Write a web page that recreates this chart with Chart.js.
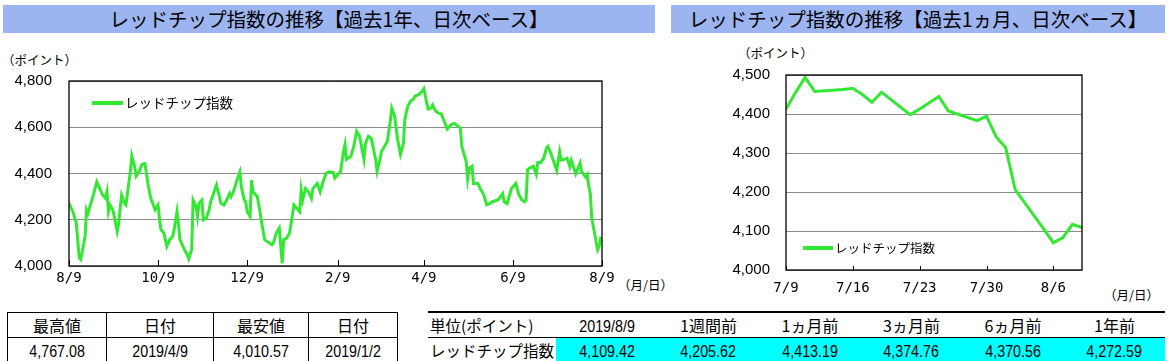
<!DOCTYPE html>
<html lang="ja">
<head>
<meta charset="utf-8">
<script src="https://cdn.jsdelivr.net/npm/chart.js@4.4.1/dist/chart.umd.min.js"></script>
<style>
  html, body { margin: 0; padding: 0; background: #fff; }
  body { width: 1170px; height: 361px; position: relative; overflow: hidden;
         font-family: "Noto Sans CJK JP", sans-serif; color: #000; }
  .title { position: absolute; background: #9cb4f0; font-size: 19.5px; height: 28px;
           line-height: 28px; text-align: center; }
  .note { position: absolute; font-size: 12.5px; white-space: nowrap; }
  canvas { position: absolute; }
  table { position: absolute; border-collapse: collapse; table-layout: fixed; }
  td { padding: 0; text-align: center; white-space: nowrap; overflow: hidden; }
  .num span { display: inline-block; font-family: "Liberation Sans", sans-serif; font-size: 17px;
              transform: scaleX(0.84); }
  #hilo { border: 1.5px solid #000; }
  #hilo td { border: 1px solid #000; font-size: 16px; }
  #hilo tr { height: 20px; }
  #recent { border-top: 2px solid #000; border-bottom: 2px solid #000; }
  #recent tr { height: 20px; }
  #recent tr:first-child td { border-bottom: 1px solid #000; }
  #recent td { font-size: 16px; }
  #recent td.lbl { text-align: left; padding-left: 2px; font-size: 15.5px; }
  #recent tr:last-child td.num { background: #00ffff; }
</style>
</head>
<body>
<div class="title" style="left:3px; top:5px; width:652px;">レッドチップ指数の推移【過去1年、日次ベース】</div>
<div class="title" style="left:671px; top:5px; width:494px;">レッドチップ指数の推移【過去1ヵ月、日次ベース】</div>

<div class="note" style="left:2px; top:50px;">（ポイント）</div>
<div class="note" style="left:738px; top:43px;">（ポイント）</div>
<div class="note" style="left:618px; top:275px;">（月/日）</div>
<div class="note" style="left:1104px; top:285px;">（月/日）</div>

<canvas id="yearChart" width="660" height="262" style="left:0; top:40px;"></canvas>
<canvas id="monthChart" width="510" height="262" style="left:660px; top:40px;"></canvas>

<table id="hilo" style="left:7px; top:312px; width:390px;">
  <colgroup><col style="width:99px"><col style="width:107px"><col style="width:95px"><col style="width:89px"></colgroup>
  <tbody></tbody>
</table>

<table id="recent" style="left:428px; top:311px; width:737px;">
  <colgroup><col style="width:128px"><col style="width:102px"><col style="width:101px"><col style="width:102px"><col style="width:101px"><col style="width:102px"><col style="width:101px"></colgroup>
  <tbody></tbody>
</table>

<script>
// 1 year, day offset from 2018/8/9
const yearDays = [0, 3, 5, 7, 8, 9, 11, 12, 13, 14, 17, 19, 21, 23, 25, 26, 27, 28, 30, 31,
  33, 34, 36, 38, 39, 40, 42, 43, 45, 46, 48, 50, 52, 54, 56, 59, 61, 62, 63, 65,
  67, 69, 71, 72, 74, 75, 76, 79, 81, 82, 84, 85, 87, 88, 89, 91, 92, 94, 96, 97,
  99, 101, 103, 104, 106, 108, 110, 111, 113, 115, 117, 118, 120, 121, 122, 124, 125, 126, 129, 130,
  132, 134, 137, 139, 140, 142, 144, 146, 147, 149, 151, 153, 154, 156, 158, 159, 160, 162, 164, 166,
  167, 170, 172, 174, 176, 178, 181, 182, 186, 188, 189, 190, 193, 195, 197, 199, 202, 203, 205, 207,
  210, 211, 213, 214, 216, 218, 220, 221, 223, 225, 227, 229, 230, 232, 234, 236, 237, 239, 240, 242,
  243, 245, 246, 248, 249, 251, 253, 255, 259, 262, 264, 268, 269, 272, 273, 274, 276, 277, 280, 282,
  284, 286, 288, 290, 294, 297, 298, 300, 301, 303, 306, 308, 310, 312, 313, 314, 316, 318, 320, 321,
  323, 325, 327, 328, 330, 334, 335, 336, 337, 340, 341, 342, 343, 344, 347, 348, 349, 350, 351, 354,
  355, 356, 357, 358, 361, 362, 363, 364, 365];
const yearValues = [4273, 4228, 4185, 4035, 4028, 4057, 4128, 4243, 4228, 4250, 4314, 4364, 4336, 4307, 4293, 4321, 4236, 4264, 4243, 4214,
  4150, 4185, 4307, 4271, 4264, 4314, 4407, 4476, 4429, 4388, 4407, 4440, 4443, 4357, 4293, 4243, 4264, 4200, 4157, 4142,
  4085, 4114, 4128, 4157, 4235, 4178, 4114, 4071, 4049, 4031, 4071, 4285, 4257, 4214, 4271, 4285, 4200, 4207, 4243, 4278,
  4314, 4350, 4300, 4271, 4264, 4285, 4314, 4300, 4328, 4371, 4407, 4343, 4285, 4278, 4236, 4214, 4371, 4321, 4300, 4264,
  4185, 4114, 4100, 4092, 4100, 4142, 4164, 4011, 4114, 4121, 4142, 4221, 4264, 4250, 4235, 4328, 4285, 4335, 4321, 4293,
  4335, 4357, 4321, 4364, 4400, 4407, 4404, 4380, 4409, 4496, 4526, 4461, 4474, 4517, 4583, 4561, 4461, 4530, 4561, 4552,
  4461, 4409, 4461, 4496, 4517, 4539, 4626, 4683, 4648, 4548, 4483, 4530, 4635, 4692, 4713, 4722, 4735, 4740, 4744, 4757,
  4767, 4705, 4679, 4683, 4696, 4670, 4661, 4657, 4592, 4613, 4617, 4596, 4517, 4452, 4378, 4422, 4431, 4357, 4357, 4330,
  4309, 4265, 4270, 4278, 4287, 4313, 4278, 4270, 4291, 4335, 4357, 4309, 4287, 4278, 4285, 4417, 4426, 4431, 4396, 4448,
  4448, 4465, 4509, 4517, 4487, 4413, 4455, 4494, 4458, 4463, 4466, 4450, 4430, 4456, 4398, 4413, 4429, 4445, 4408, 4383,
  4394, 4342, 4314, 4206, 4105, 4070, 4083, 4117, 4109];
const yearTickDays = [0, 61, 122, 184, 243, 304, 365];
const yearTickLabels = ['8/9', '10/9', '12/9', '2/9', '4/9', '6/9', '8/9'];

// 1 month, day offset from 2019/7/9
const monthDays = [0, 1, 2, 3, 6, 7, 8, 9, 10, 13, 14, 15, 16, 17, 20, 21, 22, 23, 24, 27, 28, 29, 30, 31];
const monthValues = [4413, 4455, 4494, 4458, 4463, 4466, 4450, 4430, 4456, 4398, 4413, 4429, 4445, 4408, 4383, 4394,
  4342, 4314, 4206, 4105, 4070, 4083, 4117, 4109];
const monthTickDays = [0, 7, 14, 21, 28];
const monthTickLabels = ['7/9', '7/16', '7/23', '7/30', '8/6'];

const seriesName = 'レッドチップ指数';

// tables
const hiloHeads = ['最高値', '日付', '最安値', '日付'];
const hiloValues = ['4,767.08', '2019/4/9', '4,010.57', '2019/1/2'];
const recentHeads = ['単位(ポイント)', '2019/8/9', '1週間前', '1ヵ月前', '3ヵ月前', '6ヵ月前', '1年前'];
const recentValues = [seriesName, '4,109.42', '4,205.62', '4,413.19', '4,374.76', '4,370.56', '4,272.59'];

const GREEN = '#33e833';

function cell(text, cls) {
  return cls === 'num' ? '<td class="num"><span>' + text + '</span></td>'
                       : '<td class="' + cls + '">' + text + '</td>';
}

function fillTables() {
  const hilo = document.querySelector('#hilo tbody');
  hilo.innerHTML =
    '<tr>' + hiloHeads.map(h => cell(h, 'head')).join('') + '</tr>' +
    '<tr>' + hiloValues.map(v => cell(v, 'num')).join('') + '</tr>';
  const recent = document.querySelector('#recent tbody');
  recent.innerHTML =
    '<tr>' + recentHeads.map((h, i) => cell(h, i === 0 ? 'lbl' : (i === 1 ? 'num' : 'head'))).join('') + '</tr>' +
    '<tr>' + recentValues.map((v, i) => cell(v, i === 0 ? 'lbl' : 'num')).join('') + '</tr>';
}

// box round the plot, little ticks pointing up, legend inside the plot
const framePlugin = {
  id: 'frame',
  afterDatasetsDraw(chart, args, opts) {
    const ctx = chart.ctx;
    const a = chart.chartArea;
    const xs = chart.scales.x;
    ctx.save();
    ctx.strokeStyle = '#000';
    ctx.lineWidth = 1.3;
    ctx.strokeRect(a.left, a.top, a.right - a.left, a.bottom - a.top);
    ctx.lineWidth = 1;
    xs.ticks.forEach(t => {
      const px = Math.round(xs.getPixelForValue(t.value)) + 0.5;
      ctx.beginPath();
      ctx.moveTo(px, a.bottom);
      ctx.lineTo(px, a.bottom - opts.tickLen);
      ctx.stroke();
    });
    const ds = chart.data.datasets[0];
    const lx = a.left + opts.legendX;
    const ly = opts.fromBottom ? a.bottom - opts.legendY : a.top + opts.legendY;
    ctx.strokeStyle = ds.borderColor;
    ctx.lineWidth = 4;
    ctx.beginPath();
    ctx.moveTo(lx, ly);
    ctx.lineTo(lx + opts.legendLen, ly);
    ctx.stroke();
    ctx.fillStyle = '#000';
    ctx.font = opts.legendFont;
    ctx.textBaseline = 'middle';
    ctx.fillText(ds.label, lx + opts.legendLen + 2, ly);
    ctx.restore();
  }
};

function makeChart(id, days, values, tickDays, tickLabels, s) {
  const ctx = document.getElementById(id).getContext('2d');
  return new Chart(ctx, {
    type: 'line',
    data: {
      datasets: [{
        label: seriesName,
        data: days.map((d, i) => ({ x: d, y: values[i] })),
        borderColor: GREEN,
        borderWidth: s.lineWidth,
        pointRadius: 0,
        tension: 0,
        fill: false
      }]
    },
    options: {
      responsive: false,
      animation: false,
      devicePixelRatio: 1,
      layout: { padding: s.padding },
      plugins: {
        legend: { display: false },
        tooltip: { enabled: false },
        frame: s.frame
      },
      scales: {
        x: {
          type: 'linear',
          min: tickDays[0],
          max: s.xMax,
          afterBuildTicks: axis => { axis.ticks = tickDays.map(v => ({ value: v })); },
          afterFit: axis => { axis.height = s.xHeight; },
          ticks: {
            autoSkip: false,
            maxRotation: 0,
            padding: s.xPad,
            color: '#000',
            font: { family: 'DejaVu Sans Mono', size: 14 },
            callback: (v, i) => tickLabels[i]
          },
          grid: { display: false, drawTicks: false },
          border: { display: false }
        },
        y: {
          min: s.yMin,
          max: s.yMax,
          afterFit: axis => { axis.width = s.yWidth; },
          ticks: {
            stepSize: s.yStep,
            padding: s.yPad,
            color: '#000',
            font: { family: 'Liberation Sans', size: 15 },
            callback: v => v.toLocaleString('en-US')
          },
          grid: { color: '#8c8c8c', lineWidth: 1, drawTicks: false },
          border: { display: false }
        }
      }
    },
    plugins: [framePlugin]
  });
}

fillTables();

makeChart('yearChart', yearDays, yearValues, yearTickDays, yearTickLabels, {
  lineWidth: 3,
  padding: { left: 0, right: 58, top: 41, bottom: 0 },
  xMax: 365, xHeight: 36, xPad: 4,
  yMin: 4000, yMax: 4800, yStep: 200, yWidth: 69, yPad: 17,
  frame: { tickLen: 6, legendX: 23, legendY: 22, fromBottom: false, legendLen: 31,
           legendFont: '13.5px "Noto Sans CJK JP"' }
});

makeChart('monthChart', monthDays, monthValues, monthTickDays, monthTickLabels, {
  lineWidth: 3,
  padding: { left: 0, right: 88, top: 35, bottom: 0 },
  xMax: 31, xHeight: 32, xPad: 10,
  yMin: 4000, yMax: 4500, yStep: 100, yWidth: 126, yPad: 16,
  frame: { tickLen: 4, legendX: 17, legendY: 22, fromBottom: true, legendLen: 30,
           legendFont: '12.5px "Noto Sans CJK JP"' }
});
</script>
</body>
</html>
